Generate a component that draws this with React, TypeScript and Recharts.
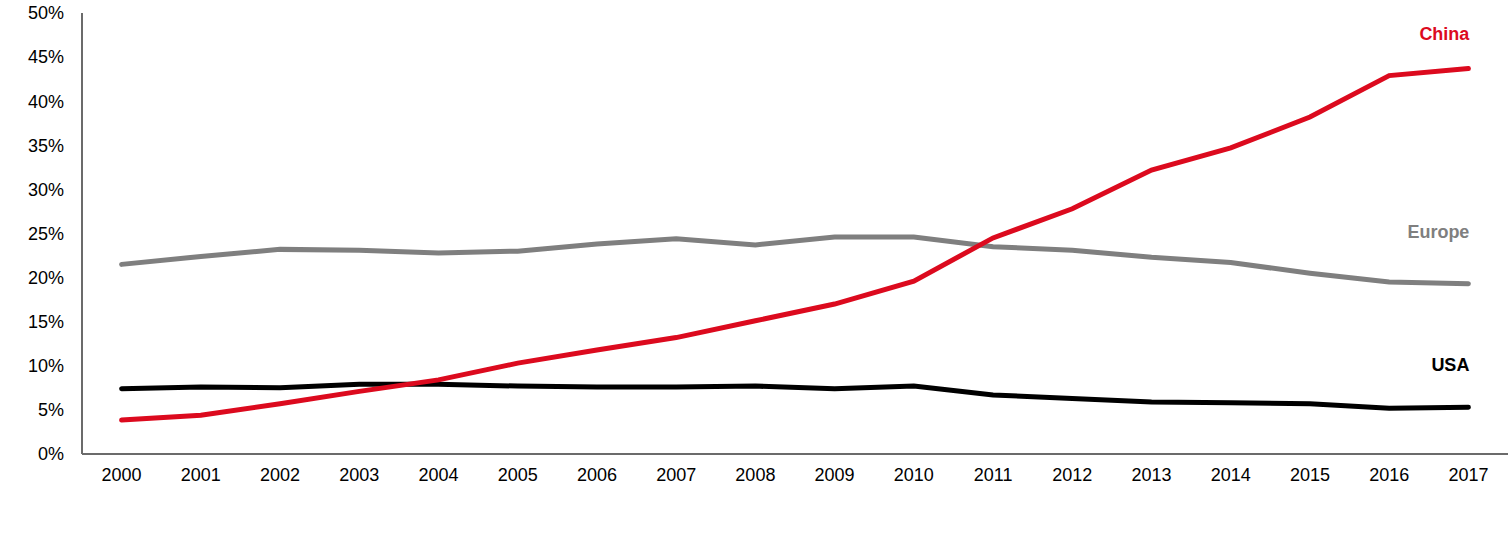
import React from 'react';
import { LineChart, Line, XAxis, YAxis } from 'recharts';

const years = ['2000', '2001', '2002', '2003', '2004', '2005', '2006', '2007', '2008', '2009', '2010', '2011', '2012', '2013', '2014', '2015', '2016', '2017'];
const china = [3.85, 4.4, 5.7, 7.1, 8.4, 10.3, 11.8, 13.2, 15.1, 17.0, 19.6, 24.5, 27.8, 32.2, 34.7, 38.2, 42.9, 43.7];
const europe = [21.5, 22.4, 23.2, 23.1, 22.8, 23.0, 23.8, 24.4, 23.7, 24.6, 24.6, 23.5, 23.1, 22.3, 21.7, 20.5, 19.5, 19.3];
const usa = [7.4, 7.6, 7.5, 7.9, 7.9, 7.7, 7.6, 7.6, 7.7, 7.4, 7.7, 6.7, 6.3, 5.9, 5.8, 5.7, 5.2, 5.3];
const yTicks = [0, 5, 10, 15, 20, 25, 30, 35, 40, 45, 50];

const data = years.map((year, i) => ({ year, China: china[i], Europe: europe[i], USA: usa[i] }));

const FONT = 'Liberation Sans, Arial, sans-serif';

// label drawn above the last point of a series only
const endLabel = (name: string, color: string, dy: number) => (props: any) => {
  const { x, y, index } = props;
  if (index !== years.length - 1) return null;
  return (
    <text
      x={x + 1}
      y={y + dy}
      textAnchor="end"
      dominantBaseline="central"
      fill={color}
      fontFamily={FONT}
      fontSize={18}
      fontWeight={700}
    >
      {name}
    </text>
  );
};

export default function App() {
  return (
    <div style={{ position: 'absolute', left: 0, top: 0, background: '#fff' }}>
      <LineChart
        width={1508}
        height={533}
        data={data}
        margin={{ top: 13, right: 0, bottom: 49, left: 0 }}
      >
        <XAxis
          dataKey="year"
          padding={{ left: 39.6, right: 39.6 }}
          axisLine={{ stroke: '#6b6b6b', strokeWidth: 2 }}
          tickLine={false}
          tickSize={0}
          tickMargin={14}
          height={30}
          interval={0}
          tick={{ fill: '#000', fontSize: 18, fontFamily: FONT }}
        />
        <YAxis
          domain={[0, 50]}
          ticks={yTicks}
          interval={0}
          width={82}
          axisLine={{ stroke: '#6b6b6b', strokeWidth: 2 }}
          tickLine={false}
          tickSize={0}
          tickMargin={18}
          tickFormatter={(v: number) => `${v}%`}
          tick={{ fill: '#000', fontSize: 18, fontFamily: FONT }}
        />
        <Line
          type="linear"
          dataKey="Europe"
          stroke="#7f7f7f"
          strokeWidth={5}
          strokeLinecap="round"
          dot={false}
          isAnimationActive={false}
          label={endLabel('Europe', '#7f7f7f', -52)}
        />
        <Line
          type="linear"
          dataKey="USA"
          stroke="#000000"
          strokeWidth={5}
          strokeLinecap="round"
          dot={false}
          isAnimationActive={false}
          label={endLabel('USA', '#000000', -42)}
        />
        <Line
          type="linear"
          dataKey="China"
          stroke="#dc0a1e"
          strokeWidth={5}
          strokeLinecap="round"
          dot={false}
          isAnimationActive={false}
          label={endLabel('China', '#dc0a1e', -35)}
        />
      </LineChart>
    </div>
  );
}
